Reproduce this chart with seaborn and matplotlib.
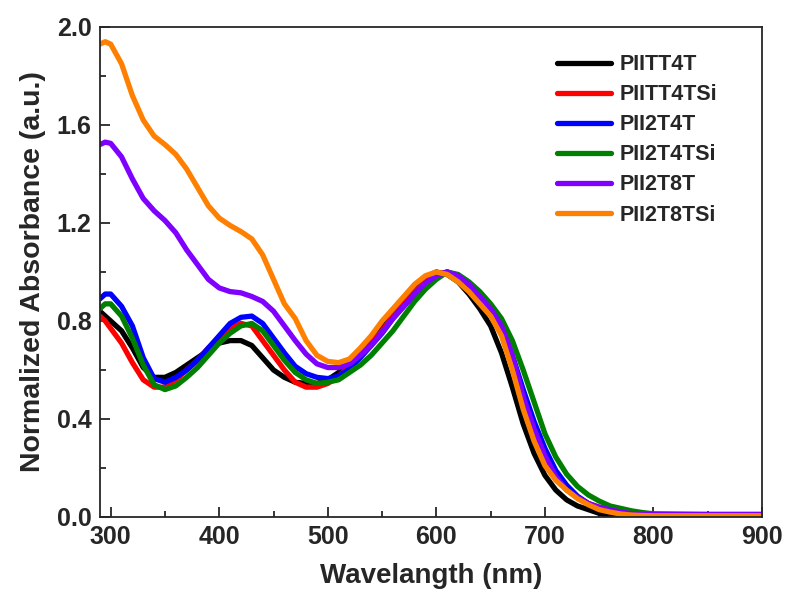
import numpy as np
import pandas as pd
import matplotlib
matplotlib.use("Agg")
import matplotlib.pyplot as plt
import seaborn as sns
from matplotlib.ticker import MultipleLocator

# wavelength grid (nm) shared by all spectra
wavelength = [290, 295, 300, 310, 320, 330, 340, 350, 360, 370, 380, 390,
              400, 410, 420, 430, 440, 450, 460, 470, 480, 490, 500, 510,
              520, 530, 540, 550, 560, 570, 580, 590, 600, 610, 620, 630,
              640, 650, 660, 670, 680, 690, 700, 710, 720, 730, 740, 750,
              760, 770, 780, 790, 800, 850, 900]

piitt4t = [0.84, 0.82, 0.80, 0.76, 0.69, 0.61, 0.57, 0.57, 0.59, 0.62, 0.65, 0.68,
           0.71, 0.72, 0.72, 0.70, 0.65, 0.60, 0.57, 0.55, 0.545, 0.545, 0.56, 0.59,
           0.63, 0.68, 0.73, 0.78, 0.84, 0.89, 0.94, 0.98, 1.00, 0.99, 0.96, 0.91,
           0.85, 0.78, 0.67, 0.53, 0.38, 0.26, 0.17, 0.11, 0.07, 0.045, 0.03, 0.015,
           0.005, 0.003, 0.002, 0.001, 0.001, 0.001, 0.001]

piitt4tsi = [0.82, 0.80, 0.77, 0.71, 0.63, 0.56, 0.53, 0.53, 0.56, 0.60, 0.64, 0.69,
             0.73, 0.77, 0.79, 0.78, 0.72, 0.66, 0.60, 0.55, 0.53, 0.53, 0.545, 0.575,
             0.615, 0.66, 0.71, 0.76, 0.82, 0.87, 0.92, 0.96, 0.99, 1.00, 0.98, 0.94,
             0.90, 0.86, 0.78, 0.65, 0.51, 0.38, 0.27, 0.18, 0.12, 0.08, 0.055, 0.04,
             0.028, 0.02, 0.015, 0.012, 0.01, 0.01, 0.01]

pii2t4t = [0.89, 0.91, 0.91, 0.86, 0.78, 0.65, 0.565, 0.55, 0.57, 0.60, 0.64, 0.69,
           0.74, 0.79, 0.815, 0.82, 0.79, 0.73, 0.67, 0.615, 0.585, 0.57, 0.565, 0.575,
           0.605, 0.65, 0.70, 0.75, 0.81, 0.86, 0.91, 0.95, 0.985, 1.00, 0.98, 0.94,
           0.90, 0.855, 0.78, 0.66, 0.52, 0.39, 0.28, 0.19, 0.13, 0.085, 0.055, 0.035,
           0.022, 0.015, 0.012, 0.01, 0.01, 0.01, 0.01]

pii2t4tsi = [0.85, 0.87, 0.87, 0.82, 0.73, 0.62, 0.54, 0.52, 0.535, 0.57, 0.61, 0.66,
             0.71, 0.75, 0.78, 0.79, 0.76, 0.70, 0.64, 0.59, 0.56, 0.545, 0.55, 0.56,
             0.59, 0.62, 0.66, 0.71, 0.76, 0.82, 0.88, 0.93, 0.97, 1.00, 0.99, 0.96,
             0.92, 0.87, 0.81, 0.72, 0.60, 0.47, 0.34, 0.245, 0.175, 0.125, 0.09, 0.065,
             0.045, 0.035, 0.025, 0.018, 0.013, 0.01, 0.01]

pii2t8t = [1.52, 1.53, 1.525, 1.47, 1.38, 1.30, 1.25, 1.21, 1.16, 1.09, 1.03, 0.97,
           0.935, 0.92, 0.915, 0.90, 0.88, 0.84, 0.78, 0.72, 0.665, 0.625, 0.61, 0.61,
           0.625, 0.66, 0.70, 0.755, 0.81, 0.86, 0.91, 0.955, 0.985, 1.00, 0.985, 0.95,
           0.90, 0.85, 0.78, 0.66, 0.49, 0.36, 0.25, 0.165, 0.11, 0.08, 0.055, 0.04,
           0.03, 0.02, 0.014, 0.01, 0.01, 0.01, 0.01]

pii2t8tsi = [1.93, 1.94, 1.93, 1.85, 1.72, 1.62, 1.555, 1.52, 1.48, 1.42, 1.345, 1.27,
             1.22, 1.19, 1.165, 1.135, 1.07, 0.97, 0.87, 0.81, 0.72, 0.66, 0.635, 0.63,
             0.645, 0.69, 0.74, 0.80, 0.85, 0.90, 0.95, 0.985, 1.00, 0.99, 0.96, 0.92,
             0.87, 0.82, 0.74, 0.60, 0.44, 0.31, 0.21, 0.15, 0.11, 0.075, 0.05, 0.03,
             0.02, 0.012, 0.008, 0.006, 0.005, 0.005, 0.005]

names = ["PIITT4T", "PIITT4TSi", "PII2T4T", "PII2T4TSi", "PII2T8T", "PII2T8TSi"]
colors = ["#000000", "#ff0000", "#0000ff", "#008000", "#8000ff", "#ff8000"]
series = [piitt4t, piitt4tsi, pii2t4t, pii2t4tsi, pii2t8t, pii2t8tsi]

df = pd.concat([pd.DataFrame({"wl": wavelength, "abs": s, "sample": n})
                for n, s in zip(names, series)], ignore_index=True)

sns.set_style("ticks")
plt.rcParams['font.family'] = ['Liberation Sans', 'DejaVu Sans']
plt.rcParams['font.weight'] = 'bold'

fig = plt.figure(figsize=(7.86, 5.92), dpi=100)
ax = fig.add_axes([0.127, 0.1267, 0.8425, 0.8277])

sns.lineplot(data=df, x="wl", y="abs", hue="sample", hue_order=names,
             palette=dict(zip(names, colors)), linewidth=3.8, sort=False,
             estimator=None, ax=ax, solid_joinstyle='round',
             solid_capstyle='round')

ax.set_xlim(290, 900)
ax.set_ylim(0, 2.0)
ax.xaxis.set_major_locator(MultipleLocator(100))
ax.xaxis.set_minor_locator(MultipleLocator(50))
ax.yaxis.set_major_locator(MultipleLocator(0.4))
ax.yaxis.set_minor_locator(MultipleLocator(0.2))
ax.yaxis.set_major_formatter(matplotlib.ticker.FormatStrFormatter('%.1f'))

ax.tick_params(which='major', direction='in', length=7, width=1.3,
               labelsize=18, pad=6)
ax.tick_params(which='minor', direction='in', length=4, width=1.3)
for sp in ax.spines.values():
    sp.set_linewidth(1.3)
    sp.set_visible(True)
for lab in ax.get_xticklabels() + ax.get_yticklabels():
    lab.set_fontweight('bold')

ax.set_xlabel("Wavelangth (nm)", fontsize=20, fontweight='bold', labelpad=10)
ax.set_ylabel("Normalized Absorbance (a.u.)", fontsize=20.5, fontweight='bold',
              labelpad=8)

leg = ax.legend(loc='upper right', frameon=False, fontsize=15.5,
                handlelength=2.5, labelspacing=0.42, handletextpad=0.4,
                bbox_to_anchor=(0.955, 0.975), borderaxespad=0.3)
for t in leg.get_texts():
    t.set_fontweight('bold')
for h in leg.get_lines():
    h.set_linewidth(3.8)

fig.savefig("out.png", dpi=100)
